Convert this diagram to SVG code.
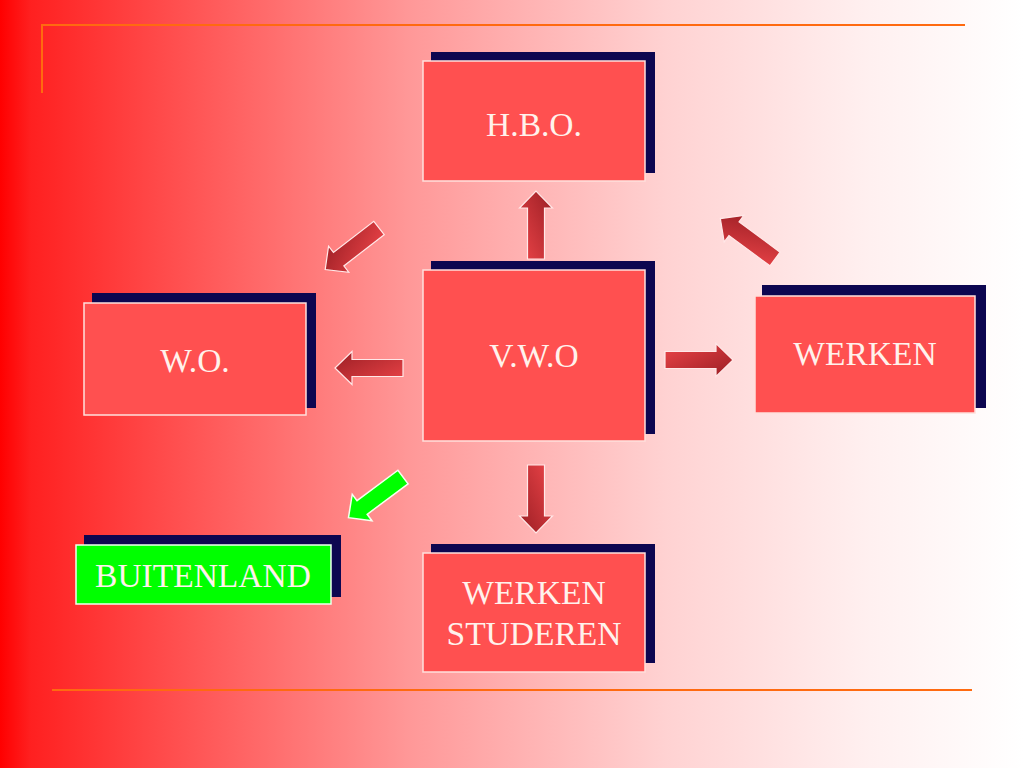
<svg xmlns="http://www.w3.org/2000/svg" xmlns:xlink="http://www.w3.org/1999/xlink" width="1024" height="768" viewBox="0 0 1024 768">
<defs>
<linearGradient id="bg" x1="0" y1="0" x2="1" y2="0">
<stop offset="0" stop-color="#ff0000"/>
<stop offset="0.03" stop-color="#ff2020"/>
<stop offset="0.15" stop-color="#ff4848"/>
<stop offset="0.4" stop-color="#ff9898"/>
<stop offset="0.65" stop-color="#ffd2d2"/>
<stop offset="0.85" stop-color="#fff0f0"/>
<stop offset="1" stop-color="#ffffff"/>
</linearGradient>
<linearGradient id="ag" x1="0" y1="0" x2="1" y2="1">
<stop offset="0" stop-color="#ec4448"/>
<stop offset="1" stop-color="#9a1e24"/>
</linearGradient>
<path id="arr" d="M0,-8.5 H51 V-16.5 L68,0 L51,16.5 V8.5 H0 Z"/>
<style>
.sh{fill:#0d0650}
.bx{fill:#ff5050;stroke:#ffe0dc;stroke-width:1.5}
.gbx{fill:#00ff00;stroke:#f0fff0;stroke-width:1.5}
.t{font-family:"Liberation Serif","Times New Roman",serif;font-size:33.5px;fill:#fff2ec;text-anchor:middle}
.a{fill:url(#ag);stroke:#ffe8e8;stroke-width:1.2}
.ga{fill:#00ff00;stroke:#f6fff0;stroke-width:1.5}
.ol{stroke:#ff6a10;stroke-width:2;fill:none}
</style>
</defs>
<rect width="1024" height="768" fill="url(#bg)"/>
<path class="ol" d="M42,93 V25 H965"/>
<line class="ol" x1="52" y1="690" x2="972" y2="690"/>

<g id="hbo">
<rect class="sh" x="431" y="52" width="224" height="121"/>
<rect class="bx" x="423" y="61" width="222" height="120"/>
<text class="t" x="534" y="136">H.B.O.</text>
</g>
<g id="wo">
<rect class="sh" x="92" y="293" width="224" height="115"/>
<rect class="bx" x="84" y="303" width="222" height="112"/>
<text class="t" x="195" y="372">W.O.</text>
</g>
<g id="vwo">
<rect class="sh" x="431" y="261" width="224" height="173"/>
<rect class="bx" x="423" y="270" width="222" height="171"/>
<text class="t" x="534" y="367">V.W.O</text>
</g>
<g id="werken">
<rect class="sh" x="762" y="285" width="224" height="123"/>
<rect class="bx" x="755" y="296" width="220" height="117"/>
<text class="t" x="865" y="365">WERKEN</text>
</g>
<g id="buitenland">
<rect class="sh" x="84" y="535" width="257" height="62"/>
<rect class="gbx" x="76" y="545" width="255" height="59"/>
<text class="t" x="203" y="587">BUITENLAND</text>
</g>
<g id="werken-studeren">
<rect class="sh" x="431" y="544" width="224" height="119"/>
<rect class="bx" x="423" y="553" width="222" height="119"/>
<text class="t" x="534" y="604">WERKEN</text>
<text class="t" x="534" y="645">STUDEREN</text>
</g>

<g id="connectors">
<use xlink:href="#arr" class="a" transform="translate(536,259) rotate(-90)"/>
<use xlink:href="#arr" class="a" transform="translate(403,368) rotate(180)"/>
<use xlink:href="#arr" class="a" transform="translate(665,360)"/>
<use xlink:href="#arr" class="a" transform="translate(536,465) rotate(90)"/>
<use xlink:href="#arr" class="a" transform="translate(379,228) rotate(142.3)"/>
<use xlink:href="#arr" class="a" transform="translate(775,259) rotate(216.5)"/>
<use xlink:href="#arr" class="ga" transform="translate(403,477) rotate(143.3)"/>
</g>
</svg>
